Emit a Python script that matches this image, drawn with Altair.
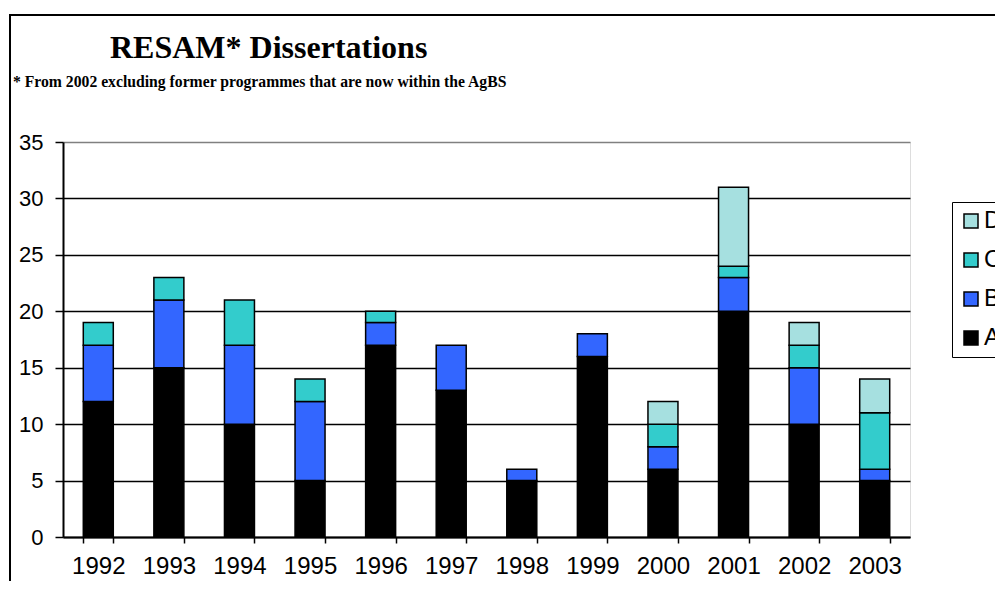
import altair as alt
import pandas as pd

years = ["1992", "1993", "1994", "1995", "1996", "1997", "1998", "1999", "2000", "2001", "2002", "2003"]
series_a = [12, 15, 10, 5, 17, 13, 5, 16, 6, 20, 10, 5]
series_b = [5, 6, 7, 7, 2, 4, 1, 2, 2, 3, 5, 1]
series_c = [2, 2, 4, 2, 1, 0, 0, 0, 2, 1, 2, 5]
series_d = [0, 0, 0, 0, 0, 0, 0, 0, 2, 7, 2, 3]
series_names = ["A", "B", "C", "D"]
series_colors = ["#000000", "#3366FF", "#33CCCC", "#A6E0E0"]
y_ticks = [0, 5, 10, 15, 20, 25, 30, 35]
title_text = ["RESAM* Dissertations"]
subtitle_text = ["* From 2002 excluding former programmes that are now within the AgBS"]

rows = []
for k, (name, vals) in enumerate(zip(series_names, [series_a, series_b, series_c, series_d])):
    for yr, v in zip(years, vals):
        if v > 0:
            rows.append({"year": yr, "series": name, "value": v, "stackorder": k})
df = pd.DataFrame(rows)

legend_domain = list(reversed(series_names))
legend_range = list(reversed(series_colors))

bars = alt.Chart(df).mark_bar(stroke="black", strokeWidth=1.5).encode(
    x=alt.X(
        "year:N",
        sort=years,
        scale=alt.Scale(paddingInner=0.575, paddingOuter=0.2875),
        axis=alt.Axis(
            title=None, labelAngle=0, labelFontSize=24, labelFont="Liberation Sans",
            labelColor="black", tickBand="extent", tickSize=6, tickColor="black",
            tickWidth=1.5, domainColor="black", domainWidth=2, labelPadding=11, grid=False,
        ),
    ),
    y=alt.Y(
        "value:Q",
        stack="zero",
        scale=alt.Scale(domain=[0, 35], nice=False),
        axis=alt.Axis(
            title=None, values=y_ticks, labelFontSize=22, labelFont="Liberation Sans",
            labelColor="black", tickSize=8, tickColor="black", tickWidth=1.5,
            domainColor="black", domainWidth=2, labelPadding=12,
            grid=True,
            gridColor=alt.condition("datum.value == 35", alt.value("#808080"), alt.value("black")),
            gridWidth=1.5,
        ),
    ),
    color=alt.Color(
        "series:N",
        scale=alt.Scale(domain=legend_domain, range=legend_range),
        legend=alt.Legend(
            title=None, orient="none", legendX=889, legendY=60,
            strokeColor="black", padding=7, rowPadding=15,
            symbolType="square", symbolSize=196, symbolStrokeColor="black",
            symbolStrokeWidth=1.5, symbolOpacity=1,
            labelFontSize=24, labelFont="Liberation Sans", labelColor="black",
            labelOffset=1, labelLimit=0,
        ),
    ),
    order=alt.Order("stackorder:Q", sort="ascending"),
)

title_layer = alt.Chart(pd.DataFrame({"t": title_text})).mark_text(
    font="Liberation Serif", fontWeight="bold", fontSize=32, align="left",
    baseline="alphabetic", color="black",
).encode(x=alt.value(47), y=alt.value(-84), text="t:N")

subtitle_layer = alt.Chart(pd.DataFrame({"t": subtitle_text})).mark_text(
    font="Liberation Serif", fontWeight="bold", fontSize=15.7, align="left",
    baseline="alphabetic", color="black",
).encode(x=alt.value(-50), y=alt.value(-55), text="t:N")

frame = alt.Chart(pd.DataFrame({"f": [0]})).mark_rect(
    filled=False, stroke="black", strokeWidth=2,
).encode(x=alt.value(-53), x2=alt.value(1000), y=alt.value(-127), y2=alt.value(600))

chart = alt.layer(frame, bars, title_layer, subtitle_layer).properties(
    width=847, height=395, autosize="none",
    padding={"left": 55, "top": 134, "right": 85, "bottom": 44},
).configure_view(
    fill="#C0C0C0", stroke="#808080", strokeWidth=1.5,
).configure(background="white")

chart.save("out.html", embed_options={"renderer": "svg", "actions": False})
